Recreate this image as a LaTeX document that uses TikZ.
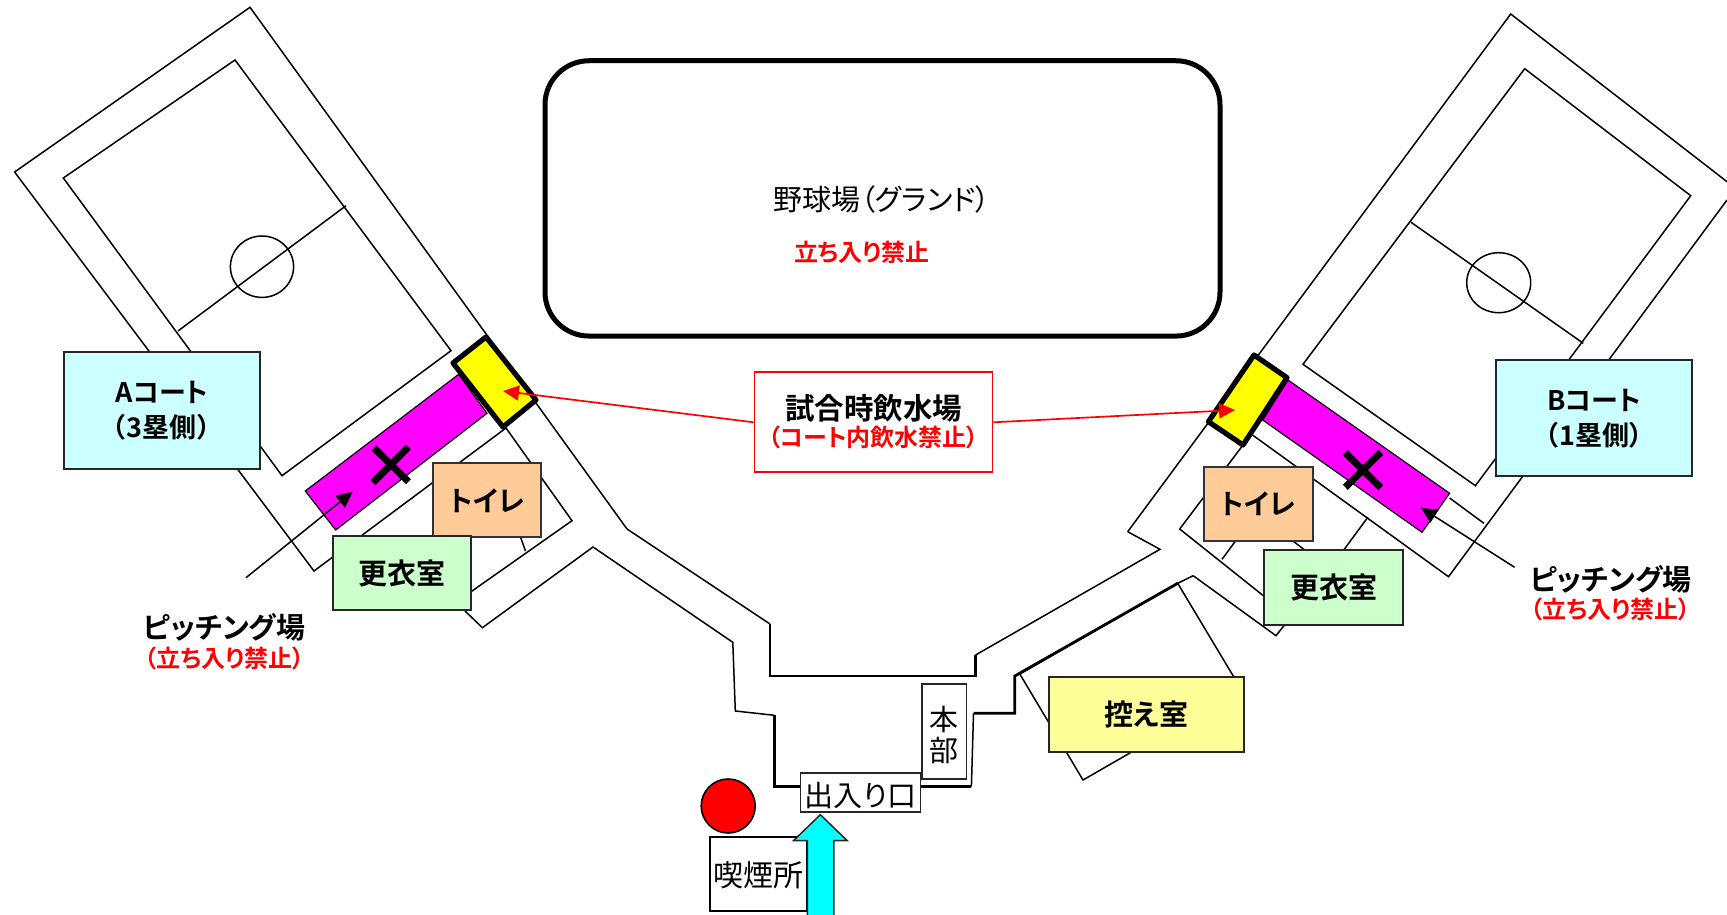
\documentclass[tikz,border=0pt]{standalone}
\usepackage{fontspec}
\setmainfont{Noto Sans CJK JP}[RawFeature=+palt,BoldFont={Noto Sans CJK JP Bold}]
\usetikzlibrary{arrows.meta}
\definecolor{courtcyan}{HTML}{CCFFFF}
\definecolor{toiletorange}{HTML}{FFCC99}
\definecolor{roomgreen}{HTML}{CCFFCC}
\definecolor{waityellow}{HTML}{FFFF99}
\definecolor{purered}{HTML}{FF0000}
\definecolor{puremagenta}{HTML}{FF00FF}
\definecolor{purecyan}{HTML}{00FFFF}
\definecolor{pureyellow}{HTML}{FFFF00}
\newcommand{\fs}[1]{\fontsize{#1}{#1}\selectfont}
\tikzset{
  wall/.style={draw=black,line width=1.5pt,line join=miter},
  wallthick/.style={draw=black,line width=2.8pt,line join=miter},
  cyanbox/.style={draw=black!85,fill=courtcyan,line width=1.8pt,inner sep=0pt},
  toiletbox/.style={draw=black!80,fill=toiletorange,line width=1.8pt,inner sep=0pt},
  greenbox/.style={draw=black!85,fill=roomgreen,line width=1.8pt,inner sep=0pt},
  waitbox/.style={draw=black!85,fill=waityellow,line width=1.8pt,inner sep=0pt},
  whitebox/.style={draw=black!85,fill=white,line width=1.8pt,inner sep=0pt},
  txt/.style={inner sep=0pt},
  boldtxt/.style={inner sep=0pt,font=\bfseries\fs{29}},
  courttxt/.style={inner sep=0pt,font=\bfseries\fs{27}},
  redtxt/.style={inner sep=0pt,text=purered,font=\bfseries\fs{24}},
  pitcharrow/.style={draw=black,line width=1.5pt,-{Triangle[length=16pt,width=15pt]}},
  redarrow/.style={draw=purered,line width=1.7pt,-{Triangle[length=16pt,width=15pt]}},
  waterspot/.style={draw=black,fill=pureyellow,line width=5.2pt,line join=round},
  pitchstrip/.style={draw=black,fill=puremagenta,line width=1.2pt},
  banmark/.style={draw=black,line width=7pt},
}
\begin{document}
\begin{tikzpicture}[x=1pt,y=-1pt]
\useasboundingbox (0,0) rectangle (1727,915);
% Court A
\draw[wall] (627,529) -- (250,7.3) -- (14.6,172) -- (314,571) -- (506,428) -- (572,520.7) -- (455,603);
\draw[wall] (451,350.7) -- (235,60) -- (63.3,178) -- (282,475.7) -- cycle;
\draw[wall] (346,205.7) -- (178,331);
\draw[wall] (262,266.7) ellipse [x radius=31.6,y radius=30.7];
\draw[wall] (518,530) -- (525.5,551);
% Court B
\draw[wall] (1127.7,531.7) -- (1510.7,14) -- (1727,181.7);
\draw[wall] (1727,200) -- (1448.5,576.7) -- (1252.5,435);
\draw[wall] (1524.7,68.7) -- (1690.7,195.7) -- (1475.4,485.7) -- (1303,364.3) -- cycle;
\draw[wall] (1411,222.3) -- (1583.3,343.3);
\draw[wall] (1498.7,282.7) ellipse [x radius=32,y radius=30];
\draw[wall] (1449.6,498) -- (1483.9,523.3);
\draw[wall] (1243,445) -- (1179.7,529) -- (1275,605);
\draw[wall] (1193.2,575.7) -- (1276,635.7) -- (1290,618);
\draw[wall] (1222,559.3) -- (1237,539);
\draw[wall] (1293,541) -- (1306,551);
\draw[wall] (1343,551) -- (1367.8,517.3);
% Central walkway
\draw[wall] (627,529) -- (770,624);
\draw[wallthick] (770,624) -- (770,676) -- (975.6,676) -- (975.6,655);
\draw[wall] (975.6,655) -- (1160,549.3) -- (1127.7,531.7);
\draw[wall] (465,611) -- (482.4,627.7) -- (593,547) -- (732.8,642.3) -- (735.3,711) -- (774.5,715.3);
\draw[wallthick] (774.5,715.3) -- (774.5,786.7) -- (810,786.7);
\draw[wallthick] (910,786.7) -- (971.4,786.7);
\draw[wall] (971.4,786.7) -- (973.5,713.3);
\draw[wallthick] (973.5,713.3) -- (1014.8,713.3) -- (1014.8,676) -- (1177.7,583.3);
\draw[wall] (1177.7,583.3) -- (1193.2,575.7);
% Waiting room
\draw[wall] (1177.7,583.3) -- (1241,689) -- (1083,780) -- (1019.8,674) -- cycle;
% Pitching strips and water spots
\draw[pitchstrip] (305.3,491) -- (335.7,530) -- (487,413.3) -- (458.7,374.3) -- cycle;
\draw[pitchstrip] (1288,380) -- (1449.6,493.3) -- (1422,532.3) -- (1262.7,420) -- cycle;
\draw[waterspot] (486,337) -- (536,400) -- (503,427) -- (453,363) -- cycle;
\draw[waterspot] (1254,355) -- (1287,377.7) -- (1243,445) -- (1208.4,421.7) -- cycle;
\draw[banmark] (374,448) -- (408.5,481.7);
\draw[banmark] (408.5,447) -- (373,482.7);
\draw[banmark] (1345.3,452.7) -- (1380.8,487.7);
\draw[banmark] (1380.8,452.3) -- (1345.3,487.3);
% Ground
\node[draw=black,line width=5pt,rounded corners=44pt,minimum width=675pt,minimum height=275.3pt,inner sep=0pt] (ground) at (882.5,198.4) {};
\node[txt,font=\fs{29}] (groundlabel) at (882,199) {野球場（グランド）};
\node[redtxt] (groundban) at (862,252) {立ち入り禁止};
% Boxes
\node[cyanbox,minimum width=196pt,minimum height=116.7pt] (courtA) at (162,410.7) {};
\node[courttxt] (courtAa) at (162,392.5) {Aコート};
\node[courttxt] (courtAb) at (161.3,427.5) {\kern2pt（\kern1pt3塁側\kern1pt）\kern2pt};
\node[cyanbox,minimum width=195.7pt,minimum height=116pt] (courtB) at (1593.8,418) {};
\node[courttxt] (courtBa) at (1594,400) {Bコート};
\node[courttxt] (courtBb) at (1594,435) {\kern2pt（\kern1pt1塁側\kern1pt）\kern2pt};
\node[toiletbox,minimum width=108pt,minimum height=74pt] (toiletA) at (487,500.3) {};
\node[courttxt,font=\bfseries\fs{28}] at (toiletA) {トイレ};
\node[greenbox,minimum width=138pt,minimum height=74pt] (roomA) at (402,573) {};
\node[boldtxt] at (roomA) {更衣室};
\node[toiletbox,minimum width=109pt,minimum height=74.6pt] (toiletB) at (1258.2,504) {};
\node[courttxt,font=\bfseries\fs{28}] at (toiletB) {トイレ};
\node[greenbox,minimum width=138.5pt,minimum height=74.7pt] (roomB) at (1333.5,587.3) {};
\node[boldtxt] at (roomB) {更衣室};
\node[waitbox,minimum width=194.7pt,minimum height=74.4pt] (waitroom) at (1146.6,714.5) {};
\node[boldtxt] at (waitroom) {控え室};
\node[whitebox,minimum width=44.4pt,minimum height=94.7pt] (hq) at (944.2,731.3) {};
\node[txt,font=\fs{29},align=center] at ([yshift=-4pt]hq.center) {本\\[2pt]部};
\node[whitebox,minimum width=120pt,minimum height=38.7pt] (gate) at (860.5,792.7) {};
\node[txt,font=\fs{29}] at ([yshift=-3pt]gate.center) {出入り口};
\node[draw=black,fill=purered,line width=1.6pt,minimum size=54pt,inner sep=0pt,circle] (redspot) at (728.2,806) {};
\node[draw=black,fill=white,line width=1.8pt,minimum width=97pt,minimum height=73.7pt,inner sep=0pt] (smoke) at (758.5,873.8) {};
\node[txt,font=\fs{30}] at ([yshift=-1pt]smoke.center) {喫煙所};
\path[draw=black!85,fill=purecyan,line width=1.5pt] (820.3,814.7) -- (847.3,840.7) -- (833.8,840.7) -- (833.8,916) -- (807.3,916) -- (807.3,840.7) -- (793.4,840.7) -- cycle;
% Pitching labels and arrows
\coordinate (pitchAfrom) at (246,577.7);
\coordinate (pitchAto) at (352.7,491.7);
\coordinate (pitchBfrom) at (1514.6,567.3);
\coordinate (pitchBto) at (1421,507.7);
\draw[pitcharrow] (pitchAfrom) -- (pitchAto);
\draw[pitcharrow] (pitchBfrom) -- (pitchBto);
\node[boldtxt] (pitchA) at (224.3,627.5) {ピッチング場};
\node[redtxt] (pitchAban) at (224.3,658) {（立ち入り禁止）};
\node[boldtxt] (pitchB) at (1610.7,579.3) {ピッチング場};
\node[redtxt] (pitchBban) at (1610.7,609.3) {（立ち入り禁止）};
% Water label
\node[draw=purered,line width=1.8pt,fill=white,minimum width=238pt,minimum height=100pt,inner sep=0pt] (drink) at (873.5,422.3) {};
\node[txt,font=\bfseries\fs{29.5}] (drinka) at (873.5,408.5) {試合時飲水場};
\node[redtxt] (drinkb) at (873.5,437.5) {（コート内飲水禁止）};
\coordinate (spotA) at (503,391);
\coordinate (spotB) at (1235,410);
\draw[redarrow] (drink.west) -- (spotA);
\draw[redarrow] (drink.east) -- (spotB);
\end{tikzpicture}
\end{document}
